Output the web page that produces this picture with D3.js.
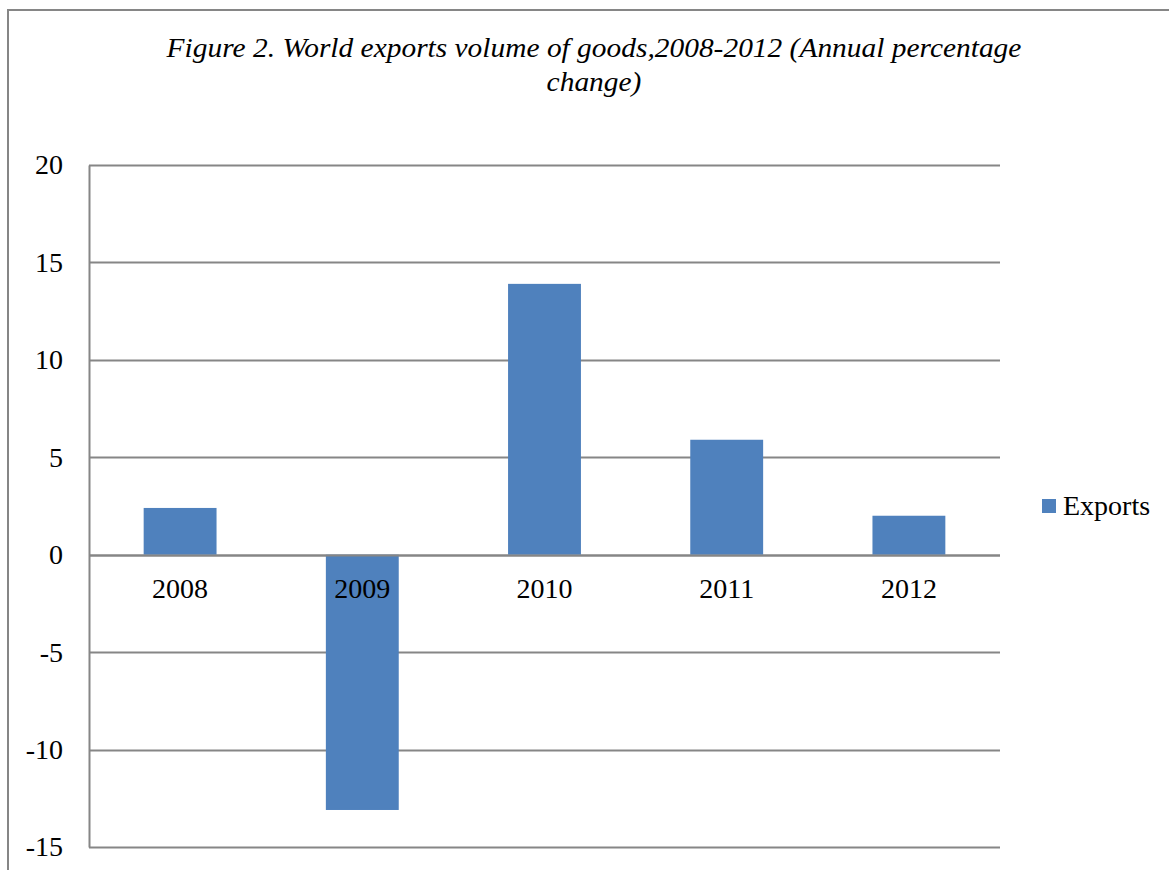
<!DOCTYPE html>
<html>
<head>
<meta charset="utf-8">
<script src="https://cdn.jsdelivr.net/npm/d3@7"></script>
<style>
  html, body { margin: 0; padding: 0; background: #fff; }
  svg { display: block; }
  text { font-family: "Liberation Serif", "Times New Roman", serif; fill: #000; }
</style>
</head>
<body>
<svg id="chart" width="1169" height="870"></svg>
<script>
// World exports volume of goods, annual % change
const years = ["2008", "2009", "2010", "2011", "2012"];
const exportsChange = [2.4, -13.1, 13.9, 5.9, 2.0];
const yTicks = [-15, -10, -5, 0, 5, 10, 15, 20];
const titleLines = [
  "Figure 2. World exports volume of goods,2008-2012 (Annual percentage",
  "change)"
];
const seriesName = "Exports";

const W = 1169, H = 870;
const plot = { left: 89, right: 1000, top: 165, bottom: 847 };
const barColor = "#4f81bd";
const gridColor = "#868686";

const svg = d3.select("#chart");

// outer chart frame (runs off the right and bottom edges)
svg.append("path")
  .attr("d", `M8,${H + 5} L8,10 L${W + 5},10`)
  .attr("fill", "none")
  .attr("stroke", gridColor)
  .attr("stroke-width", 2);

// title, slightly widened serif italic
const title = svg.append("text")
  .attr("text-anchor", "middle")
  .attr("font-style", "italic")
  .attr("font-size", 27)
  .attr("transform", "translate(594,0) scale(1.09,1)");
titleLines.forEach((t, i) => {
  title.append("tspan").attr("x", 0).attr("y", 57 + i * 34.5).text(t);
});

const x = d3.scaleBand().domain(years).range([plot.left, plot.right]).padding(0);
const y = d3.scaleLinear().domain([-15, 20]).range([plot.bottom, plot.top]);

// horizontal gridlines
svg.append("g")
  .selectAll("line")
  .data(yTicks)
  .join("line")
  .attr("x1", plot.left)
  .attr("x2", plot.right)
  .attr("y1", d => Math.round(y(d)) + 0.5)
  .attr("y2", d => Math.round(y(d)) + 0.5)
  .attr("stroke", gridColor)
  .attr("stroke-width", 2);

// bars (gap width 150%)
const barW = x.bandwidth() / 2.5;
svg.append("g")
  .selectAll("rect")
  .data(years.map((yr, i) => ({ yr, v: exportsChange[i] })))
  .join("rect")
  .attr("x", d => x(d.yr) + (x.bandwidth() - barW) / 2)
  .attr("width", barW)
  .attr("y", d => y(Math.max(0, d.v)))
  .attr("height", d => Math.abs(y(d.v) - y(0)))
  .attr("fill", barColor);

// zero line drawn over bars
svg.append("line")
  .attr("x1", plot.left).attr("x2", plot.right)
  .attr("y1", Math.round(y(0)) + 0.5).attr("y2", Math.round(y(0)) + 0.5)
  .attr("stroke", gridColor).attr("stroke-width", 2);

// left value axis (plain hyphen for negatives)
const yAxis = d3.axisLeft(y).tickValues(yTicks).tickSize(0).tickPadding(26)
  .tickFormat(d => String(d));
const yg = svg.append("g").attr("transform", `translate(${plot.left},0)`).call(yAxis);
yg.select(".domain").attr("stroke", gridColor).attr("stroke-width", 2);
yg.selectAll("text").attr("font-size", 28)
  .attr("font-family", "Liberation Serif, Times New Roman, serif").attr("fill", "#000");

// category labels sit just under the zero line
svg.append("g")
  .selectAll("text")
  .data(years)
  .join("text")
  .attr("x", d => x(d) + x.bandwidth() / 2)
  .attr("y", y(0) + 43)
  .attr("text-anchor", "middle")
  .attr("font-size", 28)
  .text(d => d);

// legend
const lg = svg.append("g").attr("transform", "translate(1042,499)");
lg.append("rect").attr("width", 14).attr("height", 14).attr("fill", barColor);
lg.append("text").attr("x", 21).attr("y", 16).attr("font-size", 28).text(seriesName);
</script>
</body>
</html>
